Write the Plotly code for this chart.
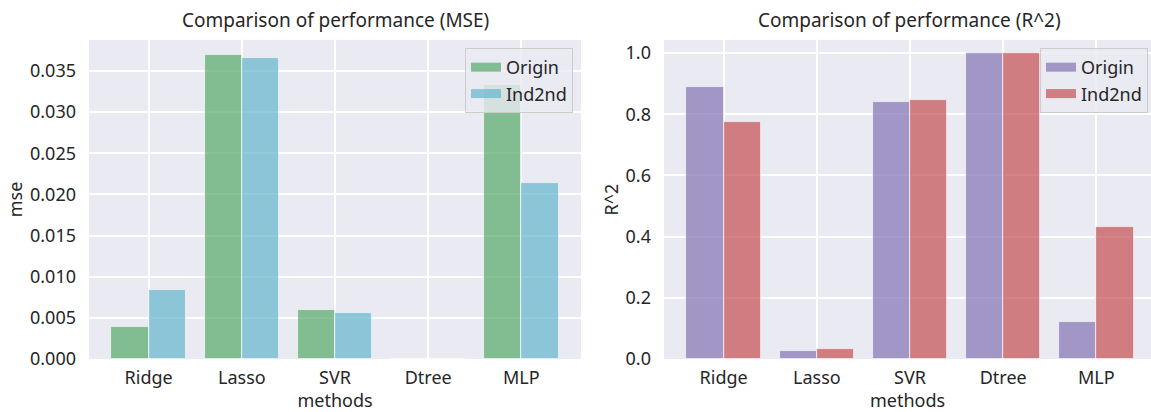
import plotly.graph_objects as go

# Model comparison data
methods = ["Ridge", "Lasso", "SVR", "Dtree", "MLP"]
mse_origin = [0.0039, 0.0369, 0.0059, 0.0, 0.0333]
mse_ind2nd = [0.0084, 0.0366, 0.0056, 0.0, 0.0214]
r2_origin = [0.890, 0.025, 0.841, 0.999, 0.122]
r2_ind2nd = [0.773, 0.033, 0.846, 0.999, 0.432]
series_names = ["Origin", "Ind2nd"]

mse_ticks = [0.000, 0.005, 0.010, 0.015, 0.020, 0.025, 0.030, 0.035]
r2_ticks = [0.0, 0.2, 0.4, 0.6, 0.8, 1.0]

GREEN = "rgba(85,168,104,0.7)"
CYAN = "rgba(100,181,205,0.7)"
PURPLE = "rgba(129,114,178,0.7)"
RED = "rgba(196,78,82,0.7)"
BG = "#EAEAF2"
TXT = "#262626"
FONT = "Noto Sans"
TICK_SIZE = 18
LABEL_SIZE = 18
TITLE_SIZE = 19

W, H = 1151, 412
fig = go.Figure()

x_idx = list(range(len(methods)))
bw = 0.4
left_x = [i - bw / 2 for i in x_idx]
right_x = [i + bw / 2 for i in x_idx]


def add_pair(vals_a, vals_b, col_a, col_b, xa, ya, legend):
    for xs, vals, col, name in ((left_x, vals_a, col_a, series_names[0]),
                                (right_x, vals_b, col_b, series_names[1])):
        fig.add_trace(go.Bar(
            x=xs, y=vals, width=bw, marker_color=col,
            marker_line=dict(color="rgba(255,255,255,0.8)", width=0.8),
            xaxis=xa, yaxis=ya, showlegend=False, name=name,
        ))
        # wide patch-like legend key
        fig.add_trace(go.Scatter(
            x=[None], y=[None], mode="lines", name=name,
            line=dict(color=col, width=9),
            xaxis=xa, yaxis=ya, legend=legend,
        ))


add_pair(mse_origin, mse_ind2nd, GREEN, CYAN, "x", "y", "legend")
add_pair(r2_origin, r2_ind2nd, PURPLE, RED, "x2", "y2", "legend2")

px_per_unit = 492 / 5.28
x_lo = -0.64

axis_common = dict(
    showgrid=True, gridcolor="white", gridwidth=1.5, zeroline=False,
    showline=False, ticks="", tickfont=dict(family=FONT, size=TICK_SIZE, color=TXT),
)
label_font = dict(size=LABEL_SIZE, family=FONT, color=TXT)
legend_common = dict(
    xanchor="right", y=0.975, yanchor="top",
    bgcolor="rgba(234,234,242,0.8)", bordercolor="#CCCCCC", borderwidth=1,
    font=dict(family=FONT, size=LABEL_SIZE, color=TXT), itemwidth=30,
    tracegroupgap=0,
)

fig.update_layout(
    width=W, height=H,
    margin=dict(l=0, r=0, t=40, b=53),
    paper_bgcolor="white", plot_bgcolor=BG,
    bargap=0, barmode="overlay",
    font=dict(family=FONT, color=TXT),
    xaxis=dict(domain=[89 / W, 581 / W], range=[x_lo, 4.64],
               tickvals=x_idx, ticktext=methods, ticklabelstandoff=6,
               title=dict(text="methods", font=label_font, standoff=0),
               **axis_common),
    yaxis=dict(domain=[0, 1], range=[0, 0.03877], anchor="x",
               tickvals=mse_ticks, tickformat=".3f", ticklabelstandoff=12,
               title=dict(text="mse", font=label_font, standoff=2),
               **axis_common),
    xaxis2=dict(domain=[664 / W, 1.0], range=[x_lo, x_lo + 487 / px_per_unit], anchor="y2",
                tickvals=x_idx, ticktext=methods, ticklabelstandoff=6,
                title=dict(text="methods", font=label_font, standoff=0),
                **axis_common),
    yaxis2=dict(domain=[0, 1], range=[0, 1.0425], anchor="x2",
                tickvals=r2_ticks, tickformat=".1f", ticklabelstandoff=12,
                title=dict(text="R^2", font=label_font, standoff=2),
                **axis_common),
    legend=dict(x=573 / W, **legend_common),
    legend2=dict(x=1148 / W, **legend_common),
    annotations=[
        dict(text="Comparison of performance (MSE)", x=335 / W, y=1, xref="paper", yref="paper",
             xanchor="center", yanchor="bottom", yshift=5, showarrow=False,
             font=dict(family=FONT, size=TITLE_SIZE, color=TXT)),
        dict(text="Comparison of performance (R^2)", x=(664 + 1155) / 2 / W, y=1, xref="paper", yref="paper",
             xanchor="center", yanchor="bottom", yshift=5, showarrow=False,
             font=dict(family=FONT, size=TITLE_SIZE, color=TXT)),
    ],
)

fig.write_html("out.html")
